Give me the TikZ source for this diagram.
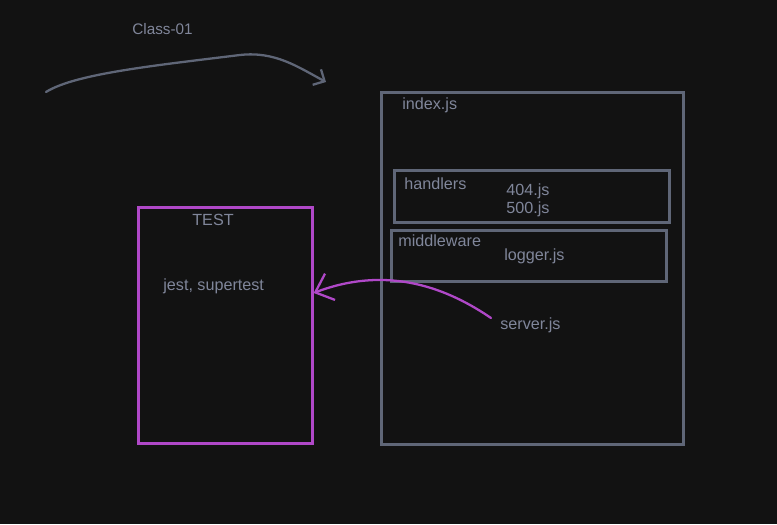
\documentclass[tikz,border=0pt]{standalone}
\usepackage{fontspec}
\setmainfont{Liberation Sans}
\usetikzlibrary{arrows.meta}

\definecolor{board}{HTML}{121212}
\definecolor{slate}{HTML}{5F6677}
\definecolor{inkgray}{HTML}{80869A}
\definecolor{violet}{HTML}{B048C8}

\tikzset{
  label/.style = {text=inkgray, font=\fontsize{9.2}{10}\selectfont, inner sep=0pt},
  filebox/.style = {draw=slate, line width=1.6pt},
  testbox/.style = {draw=violet, line width=1.5pt},
  pen/.style = {line width=1.3pt, line cap=round, line join=round}
}

\begin{document}
\begin{tikzpicture}[x=0.02cm, y=-0.02cm]
\fill[board] (0, 0) rectangle (777, 524);
\useasboundingbox (0, 0) rectangle (777, 524);

% heading and sketched arrow
\node[label, font=\fontsize{8.7}{10}\selectfont, anchor=west] (title) at (132, 29) {Class-01};
\coordinate (swoopA) at (46, 92);
\coordinate (swoopB) at (326, 82);
\draw[pen, slate, -{Straight Barb[length=5pt, width=10pt]}] (swoopA)
  .. controls (75, 74) and (150, 66) .. (240, 55)
  .. controls (275, 51) and (298, 67) .. (swoopB);

% index.js with its folders
\node[filebox, minimum width=302*0.02cm, minimum height=352*0.02cm, anchor=north west] (index) at (380, 91) {};
\node[label, anchor=west] (indexname) at (402, 105) {index.js};

\node[filebox, minimum width=275*0.02cm, minimum height=52*0.02cm, anchor=north west] (handlers) at (393, 169) {};
\node[label, anchor=west] (handlersname) at (404, 184) {handlers};
\node[label, anchor=west] (notfound) at (506, 191) {404.js};
\node[label, anchor=west] (servererr) at (506, 209) {500.js};

\node[filebox, minimum width=275*0.02cm, minimum height=51*0.02cm, anchor=north west] (middleware) at (390, 229) {};
\node[label, anchor=west] (middlewarename) at (398, 241) {middleware};
\node[label, anchor=west] (logger) at (504, 256) {logger.js};

\node[label, anchor=west] (server) at (500, 325) {server.js};

% tests
\node[testbox, minimum width=174*0.02cm, minimum height=236*0.02cm, anchor=north west] (test) at (137, 206) {};
\node[label] (testname) at (213, 220) {TEST};
\node[label, anchor=west] (tools) at (163, 286) {jest, supertest};

\coordinate (pull) at (491, 318);
\draw[pen, violet, -{Straight Barb[length=9pt, width=16pt]}] (pull)
  .. controls (450, 290) and (390, 264) .. (test.east |- 0, 293);

\end{tikzpicture}
\end{document}
